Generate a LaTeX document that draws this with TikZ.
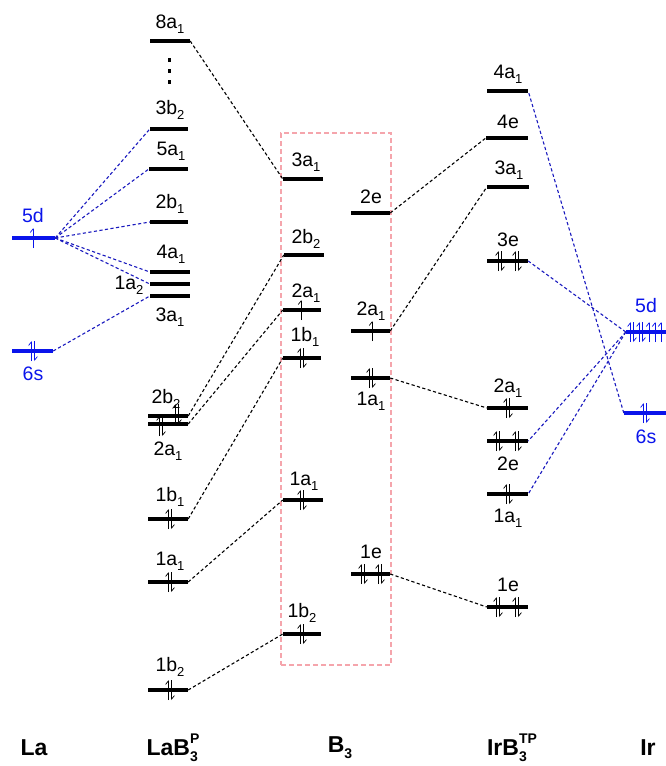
\documentclass[tikz,border=0pt]{standalone}
\usepackage{fontspec}
\setmainfont{Liberation Sans}
\usetikzlibrary{arrows.meta}
\definecolor{lvblue}{RGB}{10,20,235}
\definecolor{cnblue}{RGB}{25,25,190}
\definecolor{boxpink}{RGB}{245,165,172}
\tikzset{
  lev/.style={fill=black, inner sep=0pt, minimum height=4.2pt, minimum width=40pt},
  blev/.style={lev, fill=lvblue},
  lbl/.style={font=\fontsize{19.5}{21}\selectfont, inner sep=0pt},
  blbl/.style={lbl, text=lvblue},
  captxt/.style={font=\fontsize{23}{25}\selectfont\bfseries, inner sep=0pt},
  bk/.style={black, dash pattern=on 3.2pt off 2.4pt, line width=1.1pt},
  bl/.style={cnblue, dash pattern=on 3.2pt off 2.4pt, line width=1.1pt},
  el/.style={line width=0.7pt, -{Straight Barb[left,length=3.5pt,width=5.5pt]}}
}
\newcommand{\sbs}[1]{\raisebox{-0.45ex}{\fontsize{13}{13}\selectfont #1}}
\newcommand{\csub}[1]{\raisebox{-0.5ex}{\fontsize{14}{14}\selectfont\bfseries #1}}
\newcommand{\csup}[1]{\raisebox{1.0ex}{\fontsize{14}{14}\selectfont\bfseries #1}}
\newcommand{\eup}[3][black]{\draw[el,#1] (#2,#3+10) -- (#2,#3-10);}
\newcommand{\epair}[3][black]{\draw[el,#1] (#2-1.7,#3+10) -- (#2-1.7,#3-10);\draw[el,#1] (#2+1.7,#3-10) -- (#2+1.7,#3+10);}
\begin{document}
\begin{tikzpicture}[x=1pt,y=-1pt]
\useasboundingbox (0,0) rectangle (665,766);
% box
\node[draw=boxpink, dash pattern=on 5pt off 3pt, line width=1.1pt, inner sep=0pt, minimum width=110pt, minimum height=532pt] (box) at (336,399) {};
% La
\node[blev, minimum width=43pt] (la5d) at (33.5,238) {};
\node[blev, minimum width=41pt] (la6s) at (32.5,351) {};
\node[blbl] (tla5d) at (33,216) {5d};
\node[blbl] (tla6s) at (33,374) {6s};
\eup[lvblue]{33}{238}
\epair[lvblue]{33}{351}
% LaB3P
\node[lev] (p8a1) at (170,41) {};
\node[lbl] (tp8a1) at (170,24) {8a\sbs{1}};
\foreach \yy in {60,71,82} \fill (167.5,\yy-1.7) rectangle (170.7,\yy+1.7);
\node[lev, minimum width=38pt] (p3b2) at (169,129) {};
\node[lbl] (tp3b2) at (170,110) {3b\sbs{2}};
\node[lev, minimum width=39pt] (p5a1) at (168.5,169) {};
\node[lbl] (tp5a1) at (171,151) {5a\sbs{1}};
\node[lev, minimum width=38pt] (p2b1) at (169,222) {};
\node[lbl] (tp2b1) at (170,204) {2b\sbs{1}};
\node[lev] (p4a1) at (170,272) {};
\node[lbl] (tp4a1) at (171,254) {4a\sbs{1}};
\node[lev] (p1a2) at (170,284) {};
\node[lbl] (tp1a2) at (129,285) {1a\sbs{2}};
\node[lev] (p3a1) at (170,296) {};
\node[lbl] (tp3a1) at (170,317) {3a\sbs{1}};
\node[lev] (p2b2) at (168,416) {};
\node[lbl] (tp2b2) at (166,399) {2b\sbs{2}};
\node[lev] (p2a1) at (168,424) {};
\node[lbl] (tp2a1) at (168,451) {2a\sbs{1}};
\epair{177}{414}
\epair{161}{426}
\node[lev] (p1b1) at (168,519) {};
\node[lbl] (tp1b1) at (170,497) {1b\sbs{1}};
\epair{170}{519}
\node[lev] (p1a1) at (168,582) {};
\node[lbl] (tp1a1) at (170,561) {1a\sbs{1}};
\epair{170}{582}
\node[lev] (p1b2) at (168,690) {};
\node[lbl] (tp1b2) at (170,667) {1b\sbs{2}};
\epair{170}{690}
% B3 left
\node[lev] (b3a1) at (303,179) {};
\node[lbl] (tb3a1) at (306,162) {3a\sbs{1}};
\node[lev] (b2b2) at (304,255) {};
\node[lbl] (tb2b2) at (306,239) {2b\sbs{2}};
\node[lev, minimum width=38pt] (b2a1) at (302,310) {};
\node[lbl] (tb2a1) at (306,293) {2a\sbs{1}};
\eup{301}{310}
\node[lev, minimum width=38pt] (b1b1) at (302,358) {};
\node[lbl] (tb1b1) at (305,337) {1b\sbs{1}};
\epair{302}{358}
\node[lev] (b1a1) at (303,500) {};
\node[lbl] (tb1a1) at (304,481) {1a\sbs{1}};
\epair{302}{500}
\node[lev, minimum width=38pt] (b1b2) at (302,634) {};
\node[lbl] (tb1b2) at (302,613) {1b\sbs{2}};
\epair{302}{634}
% B3 right
\node[lev, minimum width=39pt] (b2e) at (370.5,213) {};
\node[lbl] (tb2e) at (371,197) {2e};
\node[lev, minimum width=39pt] (br2a1) at (370.5,331) {};
\node[lbl] (tbr2a1) at (371,311) {2a\sbs{1}};
\eup{372}{331}
\node[lev, minimum width=39pt] (br1a1) at (370.5,378) {};
\node[lbl] (tbr1a1) at (371,401) {1a\sbs{1}};
\epair{371}{378}
\node[lev, minimum width=39pt] (b1e) at (370.5,574) {};
\node[lbl] (tb1e) at (371,552) {1e};
\epair{363}{574}
\epair{380}{574}
% IrB3TP
\node[lev, minimum width=41pt] (i4a1) at (507.5,91) {};
\node[lbl] (ti4a1) at (508,74) {4a\sbs{1}};
\node[lev, minimum width=42pt] (i4e) at (507,138) {};
\node[lbl] (ti4e) at (508,122) {4e};
\node[lev, minimum width=42pt] (i3a1) at (508,187) {};
\node[lbl] (ti3a1) at (509,170) {3a\sbs{1}};
\node[lev, minimum width=41pt] (i3e) at (507.5,261) {};
\node[lbl] (ti3e) at (508,240) {3e};
\epair{500}{261}
\epair{517}{261}
\node[lev, minimum width=41pt] (i2a1) at (507.5,408) {};
\node[lbl] (ti2a1) at (508,388) {2a\sbs{1}};
\epair{508}{408}
\node[lev, minimum width=41pt] (i2e) at (507.5,441) {};
\node[lbl] (ti2e) at (508,464) {2e};
\epair{498}{441}
\epair{517}{441}
\node[lev, minimum width=41pt] (i1a1) at (507.5,494) {};
\node[lbl] (ti1a1) at (508,518) {1a\sbs{1}};
\epair{508}{494}
\node[lev, minimum width=41pt] (i1e) at (507.5,607) {};
\node[lbl] (ti1e) at (508,585) {1e};
\epair{498}{607}
\epair{517}{607}
% Ir
\node[blev, minimum width=42pt] (ir5d) at (647,332) {};
\node[blbl] (tir5d) at (646,306) {5d};
\epair[lvblue]{632}{332}
\epair[lvblue]{641}{332}
\eup[lvblue]{649}{332}
\eup[lvblue]{655}{332}
\eup[lvblue]{661}{332}
\node[blev, minimum width=44pt] (ir6s) at (646,413) {};
\node[blbl] (tir6s) at (646,437) {6s};
\epair[lvblue]{645}{413}
% black connectors
\draw[bk] (p8a1.east) -- (b3a1.west);
\draw[bk] (p2b2.east) -- (b2b2.west);
\draw[bk] (p2a1.east) -- (b2a1.west);
\draw[bk] (p1b1.east) -- (b1b1.west);
\draw[bk] (p1a1.east) -- (b1a1.west);
\draw[bk] (p1b2.east) -- (b1b2.west);
\draw[bk] (b2e.east) -- (i4e.west);
\draw[bk] (br2a1.east) -- (i3a1.west);
\draw[bk] (br1a1.east) -- (i2a1.west);
\draw[bk] (b1e.east) -- (i1e.west);
% blue connectors
\draw[bl] (la5d.east) -- (p3b2.west);
\draw[bl] (la5d.east) -- (p5a1.west);
\draw[bl] (la5d.east) -- (p2b1.west);
\draw[bl] (la5d.east) -- (p4a1.west);
\draw[bl] (la5d.east) -- (p1a2.west);
\draw[bl] (la6s.east) -- (p3a1.west);
\draw[bl] (ir5d.west) -- (i3e.east);
\draw[bl] (ir5d.west) -- (i2e.east);
\draw[bl] (ir5d.west) -- (i1a1.east);
\draw[bl] (ir6s.west) -- (i4a1.east);
% captions
\node[captxt] (cLa) at (34,748) {La};
\node[captxt] (cLaB) at (173,748) {LaB\rlap{\csub{3}}\csup{P}};
\node[captxt] (cB) at (340,748) {B\csub{3}};
\node[captxt] (cIrB) at (512,748) {IrB\rlap{\csub{3}}\csup{TP}};
\node[captxt] (cIr) at (648,748) {Ir};
\end{tikzpicture}
\end{document}
